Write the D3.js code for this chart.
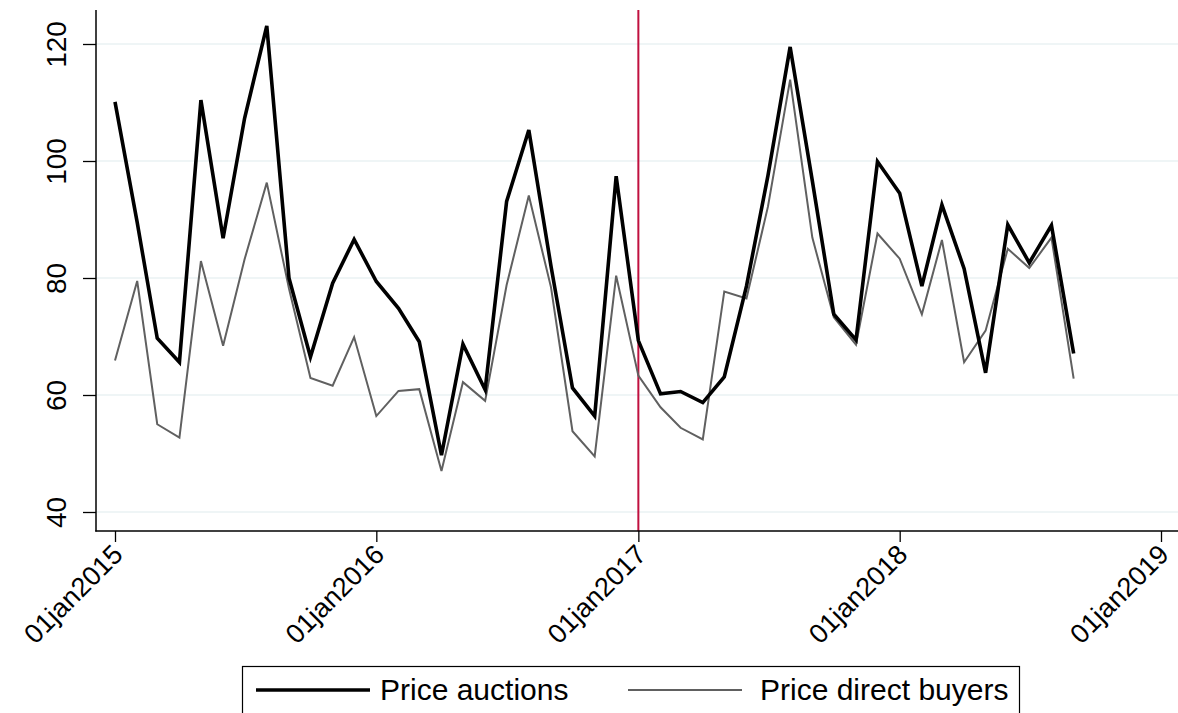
<!DOCTYPE html>
<html>
<head>
<meta charset="utf-8">
<script src="https://cdn.jsdelivr.net/npm/d3@7"></script>
<style>
  html, body { margin: 0; padding: 0; background: #fff; }
  svg { display: block; font-family: "Liberation Sans", Arial, Helvetica, sans-serif; }
</style>
</head>
<body>
<svg id="chart" width="1178" height="713"></svg>
<script>
// ---- data ----
const months = [
  "2015-01","2015-02","2015-03","2015-04","2015-05","2015-06","2015-07","2015-08","2015-09","2015-10","2015-11","2015-12",
  "2016-01","2016-02","2016-03","2016-04","2016-05","2016-06","2016-07","2016-08","2016-09","2016-10","2016-11","2016-12",
  "2017-01","2017-02","2017-03","2017-04","2017-05","2017-06","2017-07","2017-08","2017-09","2017-10","2017-11","2017-12",
  "2018-01","2018-02","2018-03","2018-04","2018-05","2018-06","2018-07","2018-08","2018-09"
];
const priceAuctions = [
  110.1, 89.5, 69.7, 65.6, 110.4, 86.8, 107.3, 123.1, 80.0, 66.5, 79.1, 86.6,
  79.4, 74.8, 69.1, 49.7, 68.7, 60.9, 93.1, 105.3, 82.0, 61.2, 56.4, 97.4,
  69.3, 60.2, 60.6, 58.7, 63.1, 78.6, 97.5, 119.5, 96.6, 73.8, 69.4, 99.9,
  94.5, 78.6, 92.5, 81.6, 63.8, 89.1, 82.6, 89.0, 67.1
];
const priceDirect = [
  65.9, 79.5, 55.0, 52.7, 82.9, 68.4, 83.2, 96.3, 78.2, 62.9, 61.6, 69.9,
  56.4, 60.7, 61.0, 47.0, 62.2, 59.0, 78.8, 94.1, 78.4, 53.8, 49.5, 80.4,
  63.3, 57.9, 54.4, 52.4, 77.7, 76.5, 92.2, 113.9, 86.9, 73.3, 68.6, 87.6,
  83.3, 73.8, 86.5, 65.6, 71.0, 85.0, 81.7, 86.9, 62.8
];
const yTicks = [40, 60, 80, 100, 120];
const xTickDates = ["2015-01-01","2016-01-01","2017-01-01","2018-01-01","2019-01-01"];
const xTickLabels = ["01jan2015","01jan2016","01jan2017","01jan2018","01jan2019"];
const eventDate = "2017-01-01";
const seriesNames = ["Price auctions", "Price direct buyers"];

// ---- setup ----
const parseM = d3.timeParse("%Y-%m");
const parseD = d3.timeParse("%Y-%m-%d");
const dates = months.map(parseM);
const svg = d3.select("#chart");

const x = d3.scaleTime()
  .domain([parseD("2015-01-01"), parseD("2019-01-01")])
  .range([115, 1161]);
const y = d3.scaleLinear().domain([40, 120]).range([512, 44]);

const axisLeft = 96, axisBottom = 531, plotTop = 10, plotRight = 1178;

// gridlines
svg.append("g").selectAll("line").data(yTicks).join("line")
  .attr("x1", axisLeft).attr("x2", plotRight)
  .attr("y1", d => y(d)).attr("y2", d => y(d))
  .attr("stroke", "#eaf2f3").attr("stroke-width", 1.6);

// event line
svg.append("line")
  .attr("x1", x(parseD(eventDate))).attr("x2", x(parseD(eventDate)))
  .attr("y1", plotTop).attr("y2", axisBottom)
  .attr("stroke", "#c0103f").attr("stroke-width", 2);

// lines
const line = vals => d3.line().x((d, i) => x(dates[i])).y(d => y(d))(vals);
svg.append("path").attr("d", line(priceDirect))
  .attr("fill", "none").attr("stroke", "#606060").attr("stroke-width", 2)
  .attr("stroke-linejoin", "miter");
svg.append("path").attr("d", line(priceAuctions))
  .attr("fill", "none").attr("stroke", "#000").attr("stroke-width", 3.6)
  .attr("stroke-linejoin", "miter");

// y axis
const gy = svg.append("g").attr("transform", `translate(${axisLeft},0)`)
  .call(d3.axisLeft(y).tickValues(yTicks).tickSize(13).tickPadding(0).tickFormat(d3.format("d")));
gy.select(".domain").remove();
gy.selectAll(".tick line").attr("stroke", "#000").attr("stroke-width", 1.3);
gy.selectAll(".tick text").style("font-size", "28px").attr("fill", "#000")
  .style("font-family", "'Liberation Sans', Arial, sans-serif")
  .attr("text-anchor", "middle").attr("dy", 0).attr("x", 0).attr("y", 0)
  .attr("transform", "translate(-30,0) rotate(-90)");
svg.append("line").attr("x1", axisLeft).attr("x2", axisLeft)
  .attr("y1", plotTop).attr("y2", axisBottom + 0.5)
  .attr("stroke", "#000").attr("stroke-width", 1.5);

// x axis
const gx = svg.append("g").attr("transform", `translate(0,${axisBottom})`)
  .call(d3.axisBottom(x).tickValues(xTickDates.map(parseD)).tickSize(11)
    .tickFormat((d, i) => xTickLabels[i]));
gx.select(".domain").remove();
gx.selectAll(".tick line").attr("stroke", "#000").attr("stroke-width", 1.3);
gx.selectAll(".tick text").style("font-size", "27px").attr("fill", "#000")
  .style("font-family", "'Liberation Sans', Arial, sans-serif")
  .attr("text-anchor", "end").attr("dy", 0).attr("y", 0)
  .attr("transform", "translate(9,25) rotate(-45)");
svg.append("line").attr("x1", axisLeft - 0.75).attr("x2", plotRight)
  .attr("y1", axisBottom).attr("y2", axisBottom)
  .attr("stroke", "#000").attr("stroke-width", 1.5);

// legend
const lg = svg.append("g");
lg.append("rect").attr("x", 242.5).attr("y", 666.5).attr("width", 777).attr("height", 60)
  .attr("fill", "#fff").attr("stroke", "#000").attr("stroke-width", 1.2);
const legendItems = [
  { name: seriesNames[0], color: "#000", w: 3.6, x1: 256, x2: 370, tx: 380 },
  { name: seriesNames[1], color: "#606060", w: 2, x1: 628, x2: 742, tx: 760 }
];
legendItems.forEach(it => {
  lg.append("line").attr("x1", it.x1).attr("x2", it.x2).attr("y1", 690).attr("y2", 690)
    .attr("stroke", it.color).attr("stroke-width", it.w);
  lg.append("text").attr("x", it.tx).attr("y", 700).style("font-size", "30px")
    .attr("fill", "#000").text(it.name);
});
</script>
</body>
</html>
